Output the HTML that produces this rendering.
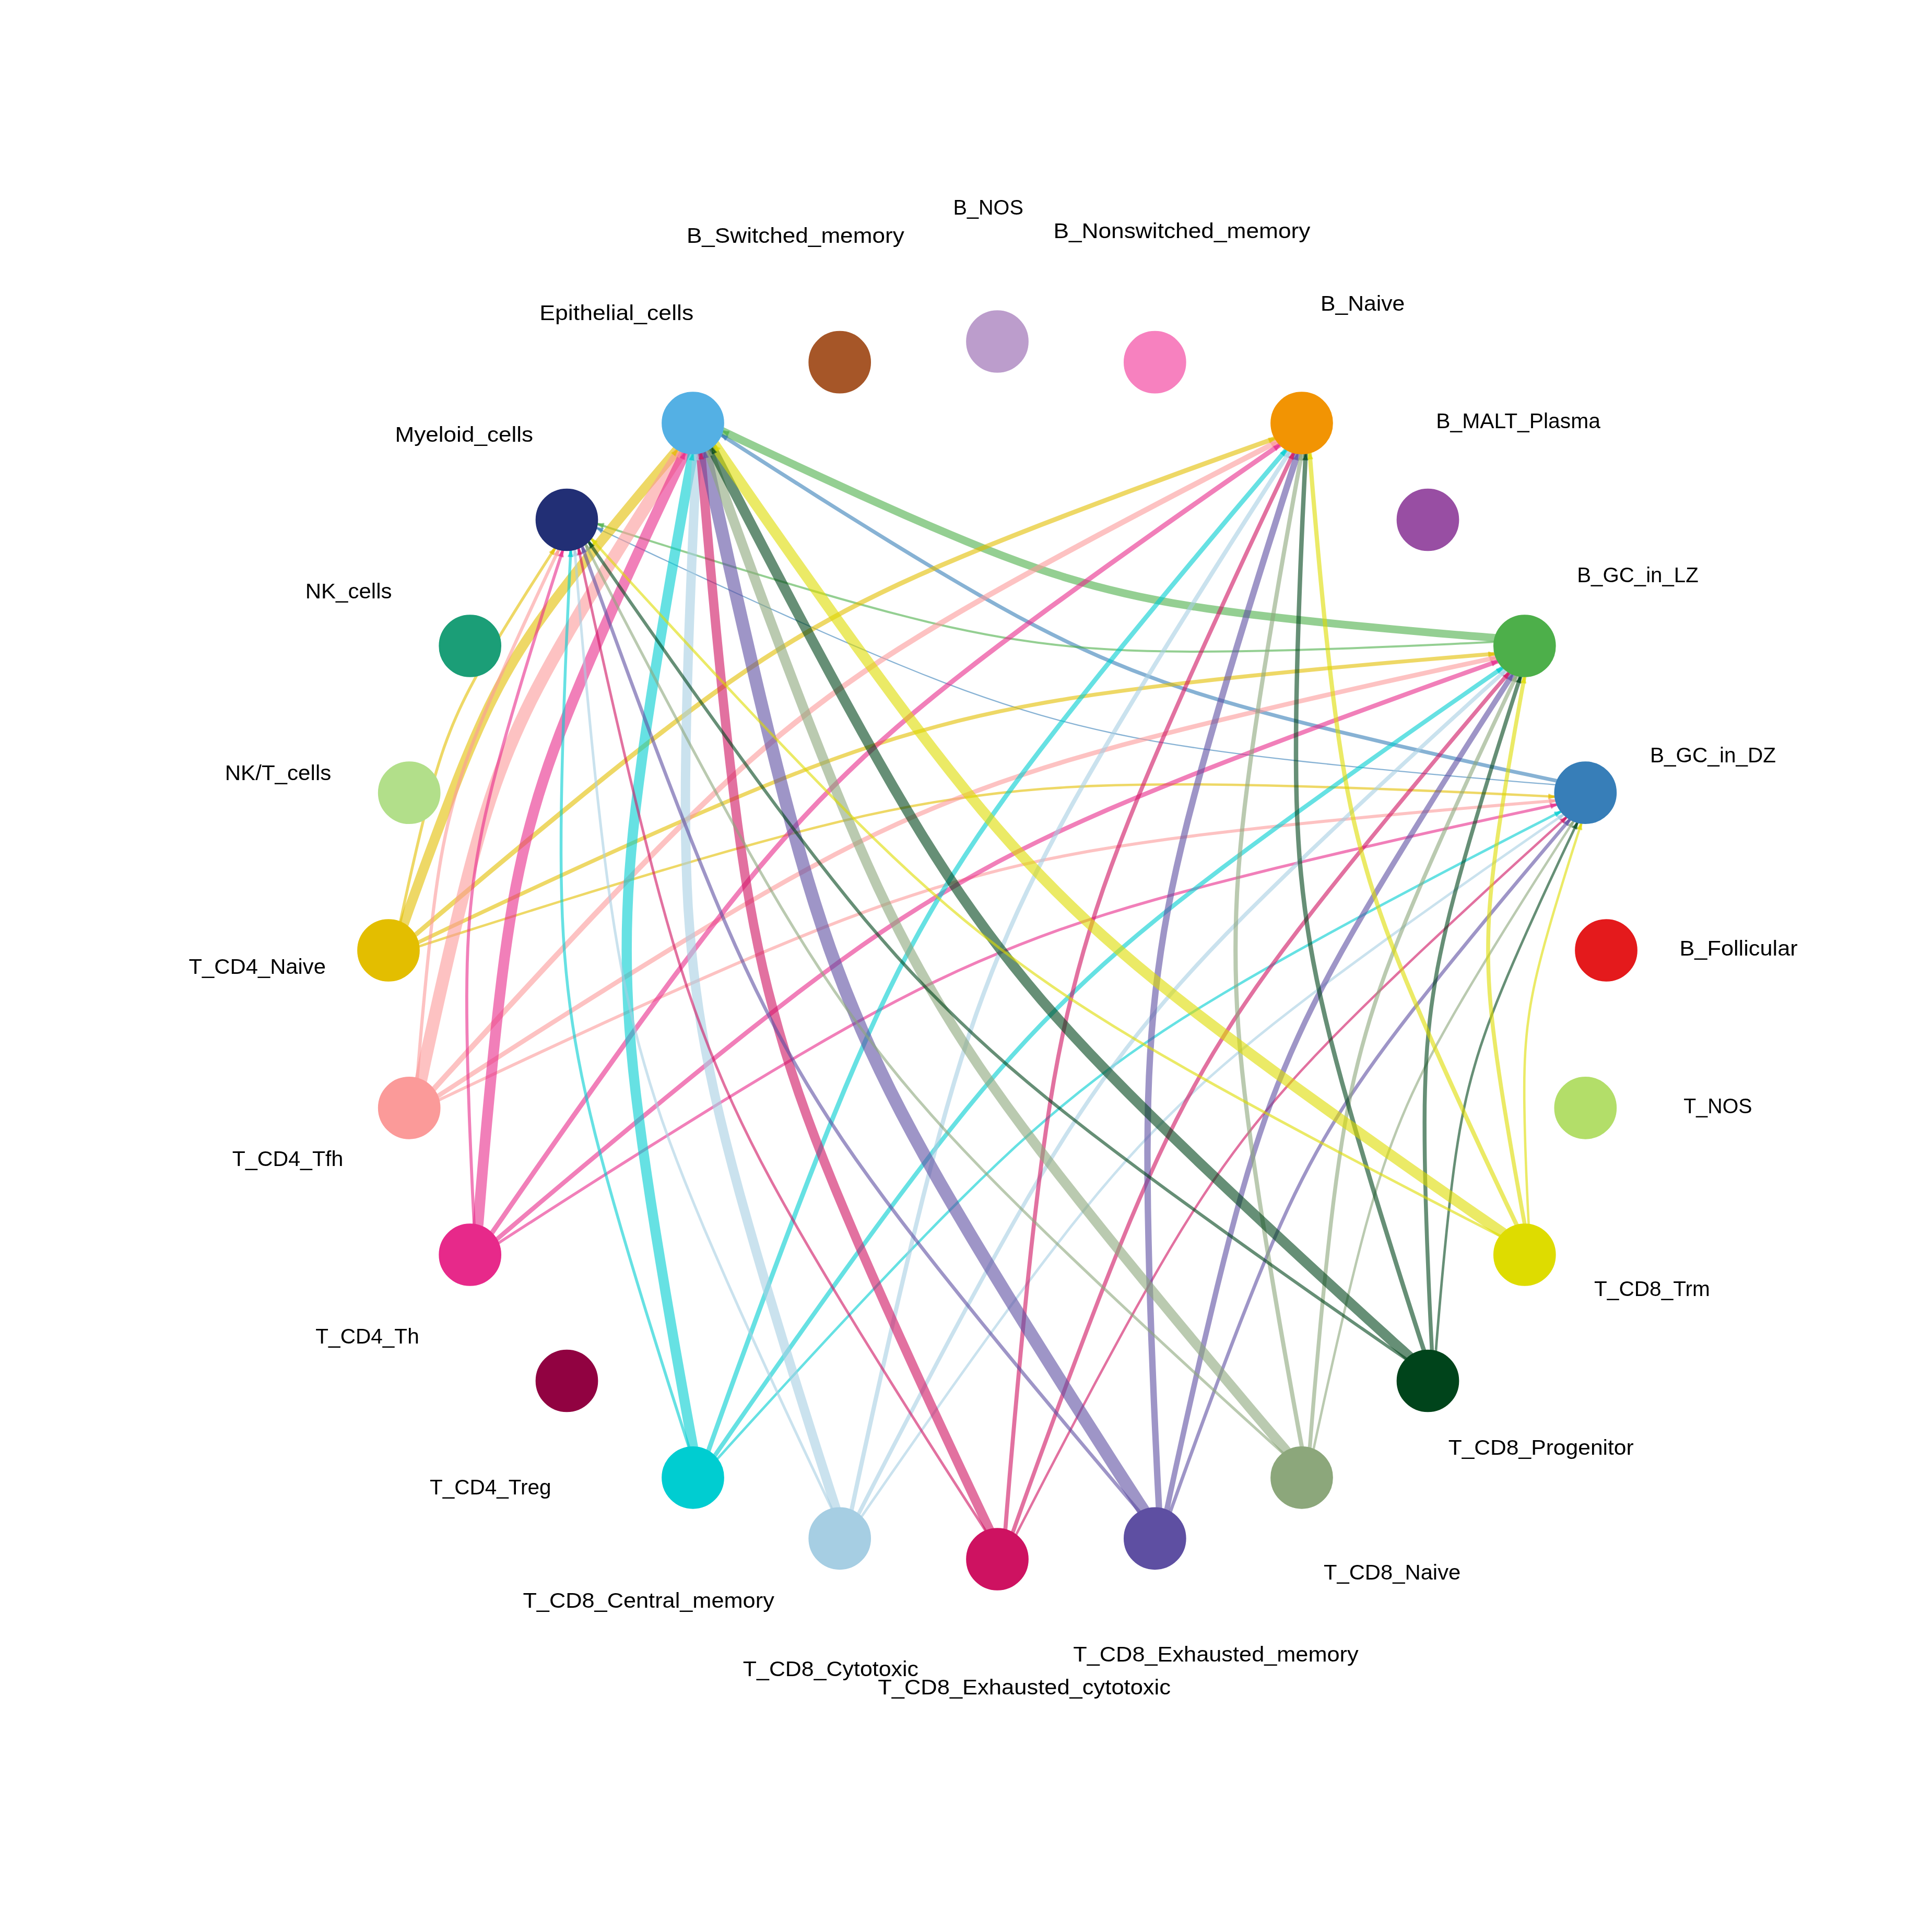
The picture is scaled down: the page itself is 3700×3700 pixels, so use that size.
<!DOCTYPE html>
<html lang="en">
<head>
<meta charset="utf-8">
<title>Cell-cell communication network</title>
<style>
html,body{margin:0;padding:0;background:#fff;}
body{width:3700px;height:3700px;overflow:hidden;font-family:"Liberation Sans",sans-serif;}
svg{display:block;will-change:transform;}
</style>
</head>
<body>
<svg width="3700" height="3700" viewBox="0 0 3700 3700">
<rect width="3700" height="3700" fill="#fff"/>
<g fill="none" stroke-opacity="0.6" stroke-linecap="round" stroke-linejoin="round">
<path d="M2981.3 1495.4 L2980.8 1495.3 L2977.5 1494.6 L2969 1492.8 L2953.7 1489.6 L2930.6 1484.6 L2899.5 1477.9 L2861 1469.4 L2816.2 1459.5 L2766.7 1448.4 L2714.4 1436.5 L2660.9 1424.2 L2607.7 1411.6 L2555.9 1399.2 L2506.3 1386.9 L2459.4 1374.9 L2415.3 1363.2 L2373.9 1351.7 L2335.2 1340.5 L2298.7 1329.3 L2264.1 1318.1 L2231 1306.8 L2199.1 1295.2 L2168 1283.3 L2137.3 1270.8 L2106.8 1257.9 L2076.3 1244.3 L2045.5 1230 L2014.1 1214.6 L1981.7 1198 L1948 1180.1 L1912.6 1160.6 L1875.2 1139.5 L1835.7 1116.5 L1794 1091.8 L1750.2 1065.4 L1704.7 1037.6 L1658.2 1008.8 L1611.6 979.7 L1566.1 951.1 L1523.3 923.9 L1484.5 899.3 L1451.2 877.9 L1424.4 860.7 L1404.5 847.9 L1391.4 839.4 L1384.1 834.7 L1381.3 832.8 L1380.9 832.5" stroke="#377EB8" stroke-width="7.2"/>
<path d="M2978.8 1502.8 L2978.2 1502.8 L2974.5 1502.5 L2965 1501.7 L2947.9 1500.4 L2922.1 1498.3 L2887.3 1495.4 L2844.1 1491.7 L2793.9 1487.3 L2738.5 1482.4 L2679.8 1476.9 L2619.8 1471.1 L2560.1 1465.1 L2502 1459 L2446.3 1452.7 L2393.5 1446.4 L2343.8 1439.9 L2297.1 1433.4 L2253.3 1426.7 L2211.9 1419.8 L2172.7 1412.6 L2135.1 1405 L2098.7 1396.9 L2063.1 1388.4 L2027.9 1379.3 L1992.8 1369.6 L1957.7 1359.2 L1922.2 1347.9 L1885.8 1335.7 L1848.2 1322.3 L1808.9 1307.6 L1767.6 1291.5 L1723.9 1273.8 L1677.6 1254.5 L1628.6 1233.6 L1577.2 1211.2 L1523.7 1187.4 L1468.9 1162.8 L1414 1137.8 L1360.4 1113.1 L1309.9 1089.7 L1264.2 1068.4 L1224.9 1049.9 L1193.3 1035 L1169.8 1023.9 L1154.3 1016.6 L1145.7 1012.5 L1142.3 1010.8 L1141.8 1010.6" stroke="#377EB8" stroke-width="2.3"/>
<path d="M2862.3 1221.6 L2861.9 1221.6 L2858.9 1221.3 L2851.2 1220.7 L2837.5 1219.6 L2816.7 1217.9 L2788.6 1215.6 L2753.9 1212.7 L2713.5 1209.1 L2668.8 1205.1 L2621.6 1200.8 L2573.3 1196.1 L2525.3 1191.3 L2478.5 1186.3 L2433.6 1181.3 L2391.1 1176.2 L2351.1 1171 L2313.5 1165.7 L2278.2 1160.3 L2245 1154.8 L2213.4 1149 L2183.1 1142.9 L2153.8 1136.4 L2125.1 1129.5 L2096.8 1122.2 L2068.6 1114.3 L2040.3 1106 L2011.7 1096.9 L1982.4 1087.1 L1952.1 1076.3 L1920.5 1064.5 L1887.2 1051.5 L1852 1037.3 L1814.7 1021.7 L1775.3 1004.9 L1733.9 986.8 L1690.8 967.7 L1646.7 947.8 L1602.5 927.7 L1559.4 907.9 L1518.7 889 L1481.8 871.8 L1450.2 857 L1424.7 845 L1405.8 836 L1393.3 830.1 L1386.4 826.8 L1383.7 825.5 L1383.3 825.3" stroke="#4DAF4A" stroke-width="15"/>
<path d="M2860.8 1229.2 L2860.3 1229.3 L2856.9 1229.4 L2848.2 1229.9 L2832.6 1230.7 L2809.1 1231.9 L2777.3 1233.4 L2737.8 1235.2 L2692 1237.2 L2641.3 1239.3 L2587.7 1241.4 L2532.8 1243.3 L2478.2 1245 L2425 1246.3 L2373.9 1247.3 L2325.5 1247.8 L2279.8 1248 L2236.9 1247.6 L2196.6 1246.8 L2158.4 1245.4 L2122.1 1243.6 L2087.3 1241.2 L2053.4 1238.3 L2020.2 1234.8 L1987.4 1230.7 L1954.6 1226.1 L1921.6 1220.9 L1888.2 1215 L1853.9 1208.3 L1818.3 1200.7 L1781.1 1192.1 L1741.8 1182.4 L1700.3 1171.7 L1656.2 1159.7 L1609.5 1146.7 L1560.4 1132.5 L1509.2 1117.4 L1456.8 1101.7 L1404.3 1085.6 L1353 1069.7 L1304.5 1054.6 L1260.7 1040.8 L1223 1028.8 L1192.7 1019.1 L1170.2 1011.8 L1155.3 1007 L1147 1004.3 L1143.8 1003.3 L1143.3 1003.1" stroke="#4DAF4A" stroke-width="4"/>
<path d="M803 1812.2 L803.6 1812 L807.7 1810.7 L818.1 1807.3 L837 1801.2 L865.4 1792 L903.8 1779.7 L951.5 1764.6 L1006.9 1747.1 L1068.2 1727.9 L1133.2 1707.8 L1199.7 1687.5 L1266 1667.5 L1330.7 1648.4 L1392.8 1630.5 L1451.9 1614 L1507.7 1598.9 L1560.3 1585.2 L1610 1573 L1657.1 1562.1 L1702.2 1552.5 L1745.6 1544 L1788 1536.5 L1829.7 1529.9 L1871.2 1524.1 L1912.9 1518.9 L1954.9 1514.5 L1997.8 1510.8 L2041.9 1507.8 L2088 1505.4 L2136.3 1503.7 L2187.5 1502.7 L2241.9 1502.2 L2299.7 1502.3 L2361.1 1503 L2425.9 1504.3 L2493.4 1506 L2562.6 1508.1 L2632.2 1510.5 L2700.2 1513.1 L2764.4 1515.7 L2822.5 1518.3 L2872.5 1520.6 L2912.9 1522.5 L2942.8 1524 L2962.6 1525 L2973.5 1525.6 L2977.8 1525.8 L2978.5 1525.8" stroke="#E3BE00" stroke-width="4.6"/>
<path d="M801.5 1804.6 L802 1804.3 L805.8 1802.5 L815.4 1797.9 L832.8 1789.7 L859.1 1777.2 L894.6 1760.5 L938.7 1739.8 L989.9 1715.9 L1046.6 1689.6 L1106.7 1661.9 L1168.3 1633.9 L1229.7 1606.2 L1289.6 1579.6 L1347.3 1554.4 L1402.2 1531 L1454.1 1509.3 L1503.1 1489.5 L1549.5 1471.4 L1593.6 1454.9 L1635.8 1439.9 L1676.6 1426.2 L1716.5 1413.5 L1755.9 1401.9 L1795.3 1391 L1834.8 1380.7 L1874.7 1371.1 L1915.6 1362.1 L1957.8 1353.6 L2001.9 1345.5 L2048.3 1337.7 L2097.6 1330.2 L2150 1322.8 L2205.8 1315.6 L2265.1 1308.5 L2327.7 1301.5 L2393 1294.5 L2460.1 1287.8 L2527.5 1281.2 L2593.4 1275.1 L2655.7 1269.5 L2712.1 1264.6 L2760.6 1260.5 L2799.8 1257.2 L2828.8 1254.8 L2848 1253.3 L2858.7 1252.5 L2862.8 1252.1 L2863.5 1252.1" stroke="#E3BE00" stroke-width="7.4"/>
<path d="M795.5 1790.2 L796 1789.9 L798.8 1787.5 L806 1781.3 L819.1 1770.2 L838.8 1753.4 L865.5 1730.8 L898.6 1702.9 L937.2 1670.4 L979.9 1634.8 L1025.3 1597.1 L1071.8 1558.8 L1118.2 1520.8 L1163.7 1484.1 L1207.5 1449.1 L1249.3 1416.3 L1289 1385.7 L1326.6 1357.3 L1362.4 1331 L1396.5 1306.7 L1429.3 1284.1 L1461.3 1262.8 L1492.7 1242.8 L1523.9 1223.6 L1555.3 1205.2 L1586.9 1187.3 L1619.1 1169.8 L1652.2 1152.6 L1686.6 1135.5 L1722.6 1118.4 L1760.8 1101 L1801.4 1083.2 L1844.8 1064.8 L1891.2 1045.7 L1940.6 1025.9 L1992.8 1005.4 L2047.4 984.4 L2103.6 963.1 L2160.1 941.9 L2215.4 921.5 L2267.7 902.3 L2315.1 885 L2355.9 870.3 L2388.9 858.5 L2413.3 849.7 L2429.5 844 L2438.5 840.8 L2442 839.6 L2442.5 839.4" stroke="#E3BE00" stroke-width="9"/>
<path d="M773.8 1768.5 L773.9 1768.2 L774.5 1766.2 L776.3 1761.3 L779.4 1752.4 L784.2 1738.9 L790.8 1720.8 L798.9 1698.4 L808.3 1672.3 L818.9 1643.5 L830.2 1613 L841.8 1581.9 L853.5 1551 L865.1 1521 L876.3 1492.2 L887.2 1465 L897.7 1439.5 L907.9 1415.6 L917.7 1393.2 L927.3 1372.2 L936.7 1352.3 L946.1 1333.4 L955.6 1315.2 L965.2 1297.4 L975.1 1280 L985.2 1262.7 L995.8 1245.5 L1006.9 1228.2 L1018.6 1210.6 L1031 1192.4 L1044.5 1173.6 L1059 1153.9 L1074.6 1133.1 L1091.5 1111.2 L1109.6 1088.2 L1128.9 1064 L1149.2 1038.9 L1170.1 1013.2 L1191.3 987.5 L1212 962.5 L1231.7 938.9 L1249.6 917.6 L1265 899.3 L1277.5 884.6 L1286.8 873.7 L1292.9 866.5 L1296.3 862.5 L1297.6 860.9 L1297.9 860.7" stroke="#E3BE00" stroke-width="19"/>
<path d="M766.8 1765 L766.8 1764.8 L767.1 1763.3 L767.9 1759.5 L769.4 1752.7 L771.6 1742.4 L774.6 1728.5 L778.4 1711.3 L782.8 1691.2 L787.8 1669.1 L793.1 1645.8 L798.6 1621.8 L804.2 1598.1 L809.8 1574.9 L815.3 1552.8 L820.6 1531.8 L825.8 1512.1 L831 1493.6 L836 1476.3 L841 1460 L846 1444.5 L851 1429.7 L856.2 1415.5 L861.6 1401.5 L867.1 1387.8 L872.9 1374.2 L879 1360.5 L885.4 1346.8 L892.3 1332.7 L899.7 1318.2 L907.7 1303.2 L916.4 1287.3 L925.9 1270.6 L936.1 1252.9 L947.2 1234.3 L959 1214.7 L971.4 1194.3 L984.3 1173.5 L997.3 1152.6 L1010.1 1132.3 L1022.3 1113.1 L1033.4 1095.8 L1042.9 1080.9 L1050.6 1068.9 L1056.3 1060 L1060.1 1054.1 L1062.2 1050.8 L1063.1 1049.6 L1063.2 1049.4" stroke="#E3BE00" stroke-width="5.4"/>
<path d="M841.2 2106.4 L841.8 2106.1 L845.7 2104.2 L855.7 2099.5 L873.7 2090.9 L901 2078 L937.8 2060.6 L983.5 2039.2 L1036.7 2014.3 L1095.5 1987.1 L1157.8 1958.4 L1221.6 1929.3 L1285.3 1900.6 L1347.6 1873 L1407.4 1846.9 L1464.3 1822.5 L1518.2 1800.1 L1569 1779.5 L1617.1 1760.8 L1662.8 1743.7 L1706.6 1728.1 L1748.9 1713.9 L1790.3 1700.8 L1831.2 1688.7 L1872 1677.4 L1913 1666.8 L1954.4 1656.8 L1996.8 1647.4 L2040.6 1638.6 L2086.3 1630.2 L2134.5 1622.1 L2185.6 1614.3 L2239.9 1606.7 L2297.8 1599.2 L2359.3 1591.8 L2424.3 1584.5 L2492 1577.3 L2561.6 1570.3 L2631.5 1563.5 L2699.9 1557.2 L2764.5 1551.4 L2823 1546.3 L2873.3 1542 L2913.9 1538.6 L2944 1536.2 L2963.9 1534.6 L2975 1533.7 L2979.3 1533.4 L2980 1533.3" stroke="#FB9A99" stroke-width="5.8"/>
<path d="M838.7 2099 L839.2 2098.7 L842.9 2096.3 L852 2090.3 L868.7 2079.6 L893.8 2063.3 L927.7 2041.5 L969.8 2014.6 L1018.8 1983.3 L1073.1 1948.9 L1130.6 1912.7 L1189.6 1875.8 L1248.5 1839.4 L1306 1804.2 L1361.4 1770.8 L1414.2 1739.5 L1464.2 1710.5 L1511.5 1683.7 L1556.3 1659.1 L1599 1636.4 L1640 1615.4 L1679.8 1595.9 L1718.7 1577.7 L1757.3 1560.5 L1796 1544.2 L1834.9 1528.4 L1874.3 1513.3 L1914.8 1498.6 L1956.6 1484.3 L2000.5 1470.1 L2046.7 1455.9 L2095.9 1441.7 L2148.3 1427.1 L2204.2 1412.3 L2263.7 1397.1 L2326.6 1381.5 L2392.2 1365.7 L2459.6 1349.8 L2527.5 1334.1 L2593.8 1319 L2656.5 1304.9 L2713.4 1292.4 L2762.2 1281.6 L2801.7 1273.1 L2831 1266.8 L2850.3 1262.6 L2861.1 1260.3 L2865.3 1259.4 L2865.9 1259.3" stroke="#FB9A99" stroke-width="8.8"/>
<path d="M830.9 2085.6 L831.3 2085.1 L834 2082.1 L840.8 2074.6 L853.1 2060.9 L871.8 2040.4 L896.9 2012.6 L928.2 1978.4 L964.6 1938.5 L1005 1894.7 L1047.9 1848.4 L1091.9 1801.2 L1135.9 1754.4 L1179.1 1709 L1220.7 1665.8 L1260.5 1625 L1298.4 1587 L1334.4 1551.6 L1368.6 1518.7 L1401.4 1488.1 L1433.2 1459.5 L1464.1 1432.5 L1494.7 1406.8 L1525.2 1382.1 L1555.9 1358.2 L1587 1334.7 L1618.7 1311.6 L1651.4 1288.8 L1685.5 1265.8 L1721.4 1242.6 L1759.5 1218.8 L1800.1 1194.2 L1843.7 1168.6 L1890.2 1141.8 L1939.9 1113.9 L1992.5 1084.8 L2047.6 1054.9 L2104.2 1024.4 L2161.2 994.1 L2217.1 964.6 L2270 936.9 L2317.9 912 L2359.2 890.6 L2392.5 873.5 L2417.2 860.8 L2433.6 852.4 L2442.6 847.8 L2446.2 846 L2446.7 845.7" stroke="#FB9A99" stroke-width="10.4"/>
<path d="M806.5 2066.8 L806.6 2066.4 L807.1 2063.9 L808.5 2057.6 L810.9 2046.1 L814.6 2028.7 L819.7 2005.4 L826.1 1976.4 L833.5 1942.7 L841.8 1905.6 L850.8 1866.2 L860 1826.1 L869.5 1786.1 L878.8 1747.2 L888.1 1710 L897.1 1674.7 L905.9 1641.5 L914.5 1610.5 L922.9 1581.3 L931.3 1553.9 L939.7 1527.9 L948.2 1503.1 L956.9 1479.1 L965.9 1455.7 L975.3 1432.6 L985 1409.7 L995.2 1386.8 L1006 1363.6 L1017.5 1340.1 L1030 1315.7 L1043.5 1290.4 L1058.1 1263.7 L1074 1235.7 L1091.2 1206 L1109.8 1174.6 L1129.6 1141.7 L1150.5 1107.5 L1172.2 1072.5 L1194 1037.5 L1215.6 1003.3 L1236 971.1 L1254.5 942 L1270.6 917 L1283.5 896.8 L1293.1 881.9 L1299.5 872 L1303.1 866.5 L1304.5 864.4 L1304.7 864.1" stroke="#FB9A99" stroke-width="24"/>
<path d="M799.1 2064.3 L799.2 2064 L799.3 2061.9 L799.7 2056.7 L800.5 2047.3 L801.6 2033.1 L803.2 2013.9 L805.2 1990.1 L807.6 1962.4 L810.4 1931.9 L813.4 1899.6 L816.6 1866.5 L819.9 1833.6 L823.3 1801.6 L826.7 1770.9 L830.2 1741.8 L833.7 1714.4 L837.3 1688.7 L841 1664.6 L844.8 1641.8 L848.8 1620.2 L853 1599.5 L857.4 1579.4 L862.2 1559.8 L867.2 1540.4 L872.5 1521.1 L878.3 1501.7 L884.5 1482.1 L891.2 1462 L898.6 1441.3 L906.7 1419.6 L915.6 1396.9 L925.3 1372.8 L935.9 1347.2 L947.5 1320.3 L959.8 1291.9 L972.9 1262.4 L986.5 1232.2 L1000.3 1201.9 L1013.9 1172.4 L1026.8 1144.5 L1038.6 1119.3 L1048.7 1097.6 L1057 1080.2 L1063.1 1067.3 L1067.1 1058.7 L1069.4 1054 L1070.3 1052.1 L1070.4 1051.8" stroke="#FB9A99" stroke-width="6.2"/>
<path d="M955.2 2380.2 L955.7 2379.9 L959.3 2377.5 L968.5 2371.6 L985.1 2360.8 L1010.3 2344.6 L1044.2 2322.8 L1086.3 2295.8 L1135.3 2264.5 L1189.6 2230.1 L1247.1 2193.9 L1306.1 2157.1 L1364.9 2120.6 L1422.5 2085.4 L1477.9 2052 L1530.7 2020.8 L1580.7 1991.7 L1628 1964.9 L1672.8 1940.3 L1715.5 1917.6 L1756.5 1896.6 L1796.2 1877.2 L1835.2 1858.9 L1873.8 1841.8 L1912.4 1825.4 L1951.3 1809.7 L1990.8 1794.5 L2031.2 1779.8 L2073.1 1765.5 L2117 1751.3 L2163.2 1737.1 L2212.4 1722.9 L2264.8 1708.4 L2320.7 1693.5 L2380.2 1678.3 L2443.1 1662.7 L2508.7 1646.9 L2576.1 1631 L2643.9 1615.3 L2710.3 1600.2 L2773 1586.2 L2829.8 1573.6 L2878.7 1562.9 L2918.2 1554.3 L2947.4 1548 L2966.8 1543.8 L2977.5 1541.6 L2981.8 1540.7 L2982.4 1540.5" stroke="#E7298A" stroke-width="5.4"/>
<path d="M951.7 2373.2 L952.2 2372.8 L955.5 2370 L964 2362.8 L979.2 2349.9 L1002.2 2330.3 L1033.2 2304 L1071.8 2271.5 L1116.7 2233.8 L1166.5 2192.2 L1219.2 2148.4 L1273.4 2103.8 L1327.5 2059.6 L1380.4 2016.8 L1431.5 1976.1 L1480.2 1937.8 L1526.4 1902.2 L1570.2 1869.1 L1611.7 1838.6 L1651.5 1810.2 L1689.7 1783.9 L1726.9 1759.2 L1763.5 1735.8 L1799.9 1713.5 L1836.4 1692.1 L1873.2 1671.2 L1910.7 1650.8 L1949.2 1630.8 L1989.2 1611 L2031.2 1591 L2075.6 1570.8 L2122.9 1550 L2173.5 1528.6 L2227.5 1506.4 L2285 1483.3 L2345.8 1459.4 L2409.4 1435 L2474.7 1410.2 L2540.5 1385.5 L2604.9 1361.7 L2665.8 1339.4 L2721 1319.3 L2768.5 1302.1 L2806.8 1288.4 L2835.3 1278.2 L2854.1 1271.5 L2864.6 1267.8 L2868.7 1266.4 L2869.3 1266.2" stroke="#E7298A" stroke-width="8.6"/>
<path d="M942.3 2360.9 L942.6 2360.4 L945 2356.9 L951.1 2348.2 L962 2332.3 L978.5 2308.4 L1000.9 2276.1 L1028.7 2236.2 L1061.1 2189.9 L1097.1 2138.8 L1135.3 2084.8 L1174.6 2029.7 L1213.9 1975 L1252.6 1922 L1289.9 1871.3 L1325.7 1823.6 L1359.9 1778.9 L1392.4 1737.2 L1423.5 1698.3 L1453.4 1662 L1482.5 1627.9 L1510.9 1595.6 L1539.2 1564.8 L1567.5 1534.9 L1596.1 1505.8 L1625.2 1477.2 L1655 1448.9 L1685.9 1420.7 L1718.2 1392.2 L1752.3 1363.1 L1788.7 1333.2 L1827.5 1302 L1869.2 1269.5 L1914 1235.3 L1961.8 1199.5 L2012.5 1162.1 L2065.6 1123.4 L2120.3 1084 L2175.4 1044.7 L2229.4 1006.4 L2280.6 970.4 L2326.9 937.9 L2366.9 910.1 L2399.2 887.7 L2423.1 871.2 L2439 860.2 L2447.8 854.2 L2451.3 851.8 L2451.8 851.4" stroke="#E7298A" stroke-width="9.3"/>
<path d="M915.6 2345.5 L915.6 2345.1 L915.9 2342.1 L916.5 2334.5 L917.6 2320.7 L919.3 2299.9 L921.6 2271.9 L924.5 2237.1 L928.1 2196.7 L932.1 2152.1 L936.5 2104.8 L941.1 2056.5 L945.9 2008.5 L950.9 1961.7 L956 1916.8 L961.1 1874.3 L966.2 1834.3 L971.5 1796.7 L976.9 1761.5 L982.4 1728.2 L988.2 1696.6 L994.4 1666.3 L1000.8 1637 L1007.7 1608.3 L1015.1 1580 L1022.9 1551.8 L1031.2 1523.5 L1040.3 1494.9 L1050.1 1465.6 L1060.9 1435.3 L1072.7 1403.7 L1085.7 1370.4 L1100 1335.2 L1115.5 1297.9 L1132.3 1258.5 L1150.4 1217.1 L1169.5 1174 L1189.4 1129.9 L1209.5 1085.7 L1229.4 1042.6 L1248.2 1001.9 L1265.4 965.1 L1280.2 933.4 L1292.2 907.9 L1301.2 889.1 L1307.1 876.6 L1310.4 869.7 L1311.7 866.9 L1311.9 866.5" stroke="#E7298A" stroke-width="20.5"/>
<path d="M908 2344 L908 2343.6 L907.8 2341.1 L907.5 2334.6 L906.9 2322.9 L906 2305.1 L904.8 2281.2 L903.5 2251.6 L902 2217.2 L900.4 2179.1 L898.8 2138.8 L897.4 2097.6 L896.1 2056.6 L895.1 2016.6 L894.4 1978.2 L894 1941.8 L893.9 1907.5 L894.2 1875.3 L894.8 1844.9 L895.8 1816.3 L897.2 1789 L899 1762.8 L901.2 1737.4 L903.8 1712.4 L906.8 1687.7 L910.3 1663.1 L914.2 1638.3 L918.7 1613.2 L923.7 1587.4 L929.4 1560.7 L935.9 1532.7 L943.1 1503.2 L951.2 1471.9 L960.2 1438.8 L970 1403.7 L980.7 1366.8 L992 1328.4 L1003.8 1289 L1015.9 1249.5 L1027.8 1210.9 L1039.2 1174.5 L1049.6 1141.5 L1058.6 1113.2 L1065.9 1090.4 L1071.4 1073.5 L1075 1062.3 L1077 1056.1 L1077.8 1053.7 L1077.9 1053.3" stroke="#E7298A" stroke-width="5.8"/>
<path d="M1374.2 2793.6 L1374.6 2793.1 L1377.3 2790.1 L1384.1 2782.6 L1396.4 2768.9 L1415 2748.4 L1440.2 2720.7 L1471.5 2686.4 L1507.9 2646.5 L1548.3 2602.7 L1591.1 2556.4 L1635.2 2509.2 L1679.2 2462.4 L1722.3 2417 L1764 2373.8 L1803.8 2333 L1841.7 2295 L1877.6 2259.6 L1911.9 2226.7 L1944.7 2196.1 L1976.4 2167.5 L2007.4 2140.5 L2038 2114.8 L2068.4 2090.1 L2099.1 2066.2 L2130.2 2042.7 L2162 2019.6 L2194.7 1996.8 L2228.8 1973.8 L2264.7 1950.6 L2302.8 1926.8 L2343.4 1902.2 L2386.9 1876.6 L2433.5 1849.8 L2483.2 1821.9 L2535.8 1792.8 L2590.8 1762.9 L2647.5 1732.4 L2704.5 1702.1 L2760.4 1672.6 L2813.2 1644.9 L2861.2 1620 L2902.4 1598.6 L2935.7 1581.5 L2960.5 1568.8 L2976.8 1560.4 L2985.9 1555.8 L2989.5 1554 L2990 1553.7" stroke="#00CDD1" stroke-width="4.8"/>
<path d="M1369.1 2787.7 L1369.4 2787.2 L1371.8 2783.7 L1377.8 2774.9 L1388.8 2759.1 L1405.3 2735.1 L1427.7 2702.9 L1455.5 2663 L1487.9 2616.6 L1523.9 2565.5 L1562.1 2511.6 L1601.4 2456.5 L1640.7 2401.8 L1679.3 2348.8 L1716.7 2298.1 L1752.5 2250.4 L1786.6 2205.6 L1819.2 2164 L1850.3 2125.1 L1880.2 2088.8 L1909.3 2054.7 L1937.7 2022.4 L1966 1991.5 L1994.3 1961.7 L2022.9 1932.6 L2052 1904 L2081.8 1875.7 L2112.7 1847.4 L2145 1818.9 L2179.1 1789.9 L2215.5 1759.9 L2254.3 1728.8 L2296 1696.3 L2340.8 1662.1 L2388.6 1626.3 L2439.3 1588.9 L2492.4 1550.2 L2547.1 1510.8 L2602.2 1471.5 L2656.2 1433.2 L2707.3 1397.2 L2753.7 1364.7 L2793.7 1336.9 L2825.9 1314.5 L2849.9 1297.9 L2865.8 1287 L2874.6 1281 L2878 1278.6 L2878.6 1278.2" stroke="#00CDD1" stroke-width="8.3"/>
<path d="M1356.7 2778.3 L1357 2777.6 L1358.4 2773.5 L1362.1 2763.1 L1368.8 2744.3 L1378.9 2715.9 L1392.7 2677.6 L1409.8 2630.1 L1429.9 2575 L1452.2 2514.1 L1476 2449.8 L1500.6 2384 L1525.3 2318.7 L1549.8 2255.2 L1573.6 2194.4 L1596.6 2137 L1618.8 2083 L1640.3 2032.5 L1661 1985.2 L1681.2 1940.8 L1701.2 1898.8 L1721 1858.8 L1741.1 1820.3 L1761.4 1782.9 L1782.3 1746 L1803.7 1709.5 L1826 1673.2 L1849.4 1636.6 L1874.1 1599.4 L1900.5 1561.1 L1928.8 1521.3 L1959.4 1479.7 L1992.5 1435.9 L2028.1 1389.6 L2066.4 1340.9 L2107.1 1289.8 L2149.9 1236.9 L2194.2 1182.7 L2238.8 1128.5 L2282.7 1075.7 L2324.3 1025.9 L2362 980.9 L2394.6 942.3 L2420.9 911.2 L2440.4 888.1 L2453.4 872.9 L2460.6 864.5 L2463.4 861.2 L2463.8 860.7" stroke="#00CDD1" stroke-width="8.9"/>
<path d="M1327 2770.3 L1326.9 2769.7 L1326.2 2766.1 L1324.5 2756.7 L1321.4 2739.9 L1316.7 2714.3 L1310.5 2680 L1302.9 2637.3 L1294.1 2587.7 L1284.5 2532.8 L1274.6 2474.8 L1264.7 2415.3 L1255 2356.1 L1245.9 2298.4 L1237.6 2242.9 L1230 2190.3 L1223.4 2140.6 L1217.6 2093.9 L1212.7 2049.8 L1208.7 2008.1 L1205.5 1968.3 L1203.1 1930 L1201.5 1892.8 L1200.5 1856.2 L1200.2 1819.8 L1200.5 1783.4 L1201.5 1746.8 L1203.1 1709.6 L1205.5 1671.3 L1208.7 1631.5 L1212.7 1589.7 L1217.6 1545.6 L1223.4 1498.8 L1230 1449.1 L1237.6 1396.4 L1245.9 1341 L1255 1283.1 L1264.7 1223.9 L1274.6 1164.4 L1284.5 1106.2 L1294.1 1051.3 L1302.9 1001.7 L1310.5 958.9 L1316.7 924.5 L1321.4 899 L1324.5 882.1 L1326.2 872.7 L1326.9 869.1 L1327 868.5" stroke="#00CDD1" stroke-width="19.5"/>
<path d="M1319.2 2770.8 L1319.1 2770.3 L1318 2767.1 L1315.3 2758.8 L1310.5 2744 L1303.3 2721.5 L1293.6 2691.2 L1281.6 2653.6 L1267.8 2609.8 L1252.7 2561.4 L1236.8 2510.2 L1220.8 2457.7 L1205 2405.3 L1189.9 2354.3 L1175.8 2305.2 L1162.7 2258.6 L1150.8 2214.5 L1140 2173 L1130.4 2133.7 L1121.8 2096.5 L1114.2 2061 L1107.5 2026.7 L1101.5 1993.3 L1096.3 1960.3 L1091.7 1927.5 L1087.7 1894.7 L1084.2 1861.5 L1081.3 1827.6 L1078.9 1792.8 L1077 1756.4 L1075.7 1718.3 L1074.8 1677.9 L1074.5 1634.9 L1074.6 1589.2 L1075.1 1540.7 L1076.1 1489.6 L1077.4 1436.3 L1079.1 1381.7 L1081 1326.7 L1083 1273 L1085.1 1222.3 L1087.2 1176.4 L1089 1136.9 L1090.5 1105.1 L1091.7 1081.5 L1092.5 1065.9 L1092.9 1057.2 L1093.1 1053.8 L1093.1 1053.3" stroke="#00CDD1" stroke-width="5.5"/>
<path d="M1650.3 2904.2 L1650.6 2903.7 L1652.7 2900.6 L1658.1 2892.8 L1667.8 2878.7 L1682.6 2857.4 L1702.5 2828.7 L1727.3 2793.1 L1756.1 2751.8 L1788.2 2706.3 L1822.2 2658.2 L1857.2 2609.1 L1892.3 2560.4 L1926.7 2513.2 L1960 2468.1 L1991.8 2425.5 L2022.3 2385.7 L2051.2 2348.5 L2079 2313.9 L2105.6 2281.6 L2131.5 2251.2 L2156.9 2222.4 L2182 2194.9 L2207.2 2168.4 L2232.7 2142.5 L2258.7 2117 L2285.2 2091.7 L2312.7 2066.6 L2341.5 2041.2 L2371.9 2015.3 L2404.3 1988.6 L2438.9 1960.9 L2476.1 1931.9 L2515.9 1901.4 L2558.5 1869.5 L2603.7 1836.2 L2651 1801.7 L2699.7 1766.6 L2748.8 1731.6 L2796.9 1697.5 L2842.5 1665.4 L2883.8 1636.5 L2919.4 1611.7 L2948.2 1591.8 L2969.5 1577 L2983.7 1567.3 L2991.5 1561.9 L2994.6 1559.8 L2995 1559.4" stroke="#A6CEE3" stroke-width="4.8"/>
<path d="M1644.4 2899.1 L1644.7 2898.5 L1646.5 2895 L1651.1 2885.9 L1659.5 2869.5 L1672.2 2844.8 L1689.3 2811.6 L1710.6 2770.3 L1735.5 2722.5 L1763.2 2669.6 L1792.6 2613.8 L1822.9 2556.8 L1853.3 2500.2 L1883.3 2445.2 L1912.3 2392.7 L1940.2 2343 L1966.9 2296.5 L1992.5 2253 L2017.1 2212.4 L2040.9 2174.3 L2064.1 2138.5 L2087 2104.4 L2109.9 2071.6 L2133 2039.9 L2156.4 2008.8 L2180.4 1978.1 L2205.1 1947.6 L2230.7 1917.1 L2257.8 1886.1 L2286.4 1854.4 L2317 1821.5 L2349.9 1787.2 L2385.3 1751.2 L2423.4 1713.3 L2464.2 1673.5 L2507.4 1631.8 L2552.8 1588.6 L2599.7 1544.5 L2646.9 1500.5 L2693.3 1457.5 L2737.2 1417.1 L2777 1380.6 L2811.3 1349.3 L2839 1324.1 L2859.7 1305.5 L2873.3 1293.1 L2880.9 1286.3 L2883.8 1283.7 L2884.3 1283.3" stroke="#A6CEE3" stroke-width="7.5"/>
<path d="M1631 2891.3 L1631.1 2890.7 L1632 2886.4 L1634.3 2875.7 L1638.4 2856.4 L1644.7 2827.1 L1653.3 2787.7 L1664 2738.9 L1676.5 2682.1 L1690.6 2619.4 L1705.6 2553.1 L1721.3 2485.4 L1737.2 2418 L1753 2352.4 L1768.5 2289.6 L1783.7 2230.2 L1798.6 2174.3 L1813.1 2121.9 L1827.3 2072.8 L1841.5 2026.5 L1855.6 1982.7 L1870 1940.8 L1884.7 1900.4 L1899.8 1861 L1915.5 1822.1 L1931.9 1783.5 L1949.1 1744.8 L1967.3 1705.9 L1986.8 1666.1 L2007.8 1625.1 L2030.5 1582.4 L2055.1 1537.5 L2081.9 1490.2 L2111 1440.1 L2142.3 1387.3 L2175.7 1331.9 L2210.9 1274.3 L2247.4 1215.3 L2284.2 1156.3 L2320.5 1098.7 L2354.9 1044.4 L2386.2 995.3 L2413.2 953.2 L2435 919.2 L2451.2 894.1 L2462 877.4 L2468 868.2 L2470.3 864.6 L2470.7 864.1" stroke="#A6CEE3" stroke-width="8.2"/>
<path d="M1600.5 2887.3 L1600.3 2886.7 L1599 2882.9 L1595.9 2873.2 L1590.2 2855.8 L1581.7 2829.3 L1570.3 2793.7 L1556.2 2749.4 L1540 2698 L1522.2 2641.1 L1503.5 2580.8 L1484.7 2519.1 L1466.1 2457.6 L1448.4 2397.5 L1431.8 2339.8 L1416.4 2285 L1402.4 2233.2 L1389.7 2184.3 L1378.4 2138.2 L1368.3 2094.5 L1359.4 2052.7 L1351.5 2012.4 L1344.5 1973.1 L1338.4 1934.3 L1333 1895.8 L1328.2 1857.1 L1324.1 1818.1 L1320.7 1778.3 L1317.8 1737.3 L1315.7 1694.6 L1314.1 1649.7 L1313.1 1602.2 L1312.7 1551.7 L1312.8 1498 L1313.5 1441 L1314.6 1381 L1316.2 1318.3 L1318.1 1254 L1320.3 1189.4 L1322.8 1126.3 L1325.2 1066.7 L1327.6 1012.7 L1329.7 966.3 L1331.5 928.9 L1332.9 901.2 L1333.8 882.8 L1334.4 872.6 L1334.6 868.6 L1334.6 868" stroke="#A6CEE3" stroke-width="18"/>
<path d="M1592.8 2888.8 L1592.6 2888.3 L1591 2884.9 L1586.9 2876.3 L1579.5 2860.9 L1568.4 2837.4 L1553.5 2805.8 L1535.1 2766.6 L1513.8 2720.9 L1490.4 2670.4 L1465.7 2616.9 L1440.8 2562.1 L1416.1 2507.4 L1392.4 2453.9 L1370 2402.5 L1349 2353.7 L1329.8 2307.4 L1312.1 2263.7 L1296 2222.4 L1281.3 2183.2 L1267.9 2145.6 L1255.7 2109.2 L1244.5 2073.7 L1234.1 2038.5 L1224.3 2003.5 L1215.2 1968.3 L1206.7 1932.7 L1198.6 1896.3 L1191 1858.7 L1183.8 1819.4 L1176.9 1778 L1170.2 1734.2 L1163.6 1687.5 L1157.2 1637.8 L1150.9 1584.9 L1144.6 1529.1 L1138.4 1471 L1132.4 1411.2 L1126.6 1351.1 L1121.1 1292.4 L1116.1 1236.9 L1111.7 1186.7 L1108.1 1143.4 L1105.2 1108.6 L1103.1 1082.7 L1101.7 1065.6 L1100.9 1056.1 L1100.6 1052.4 L1100.6 1051.8" stroke="#A6CEE3" stroke-width="5"/>
<path d="M1946.2 2938.8 L1946.5 2938.3 L1948 2935.3 L1951.9 2927.6 L1959 2913.7 L1969.8 2892.7 L1984.4 2864.4 L2002.5 2829.3 L2023.7 2788.6 L2047.2 2743.7 L2072.2 2696.2 L2098 2647.7 L2123.9 2599.6 L2149.3 2552.8 L2174 2508.1 L2197.8 2465.9 L2220.5 2426.3 L2242.2 2389.3 L2263.1 2354.8 L2283.4 2322.4 L2303.1 2291.9 L2322.6 2262.9 L2342.1 2235.1 L2361.7 2208.1 L2381.6 2181.6 L2402 2155.5 L2423 2129.6 L2444.9 2103.6 L2467.8 2077.3 L2492.2 2050.3 L2518.3 2022.3 L2546.2 1993.2 L2576.4 1962.5 L2608.7 1930.3 L2643.4 1896.4 L2680.2 1861 L2718.8 1824.2 L2758.7 1786.7 L2798.9 1749.2 L2838.3 1712.7 L2875.6 1678.3 L2909.5 1647.3 L2938.7 1620.7 L2962.3 1599.2 L2979.8 1583.4 L2991.4 1572.9 L2997.9 1567.1 L3000.4 1564.8 L3000.8 1564.5" stroke="#CE1261" stroke-width="4.6"/>
<path d="M1939.7 2934.5 L1939.9 2933.9 L1941.2 2930.4 L1944.3 2921.5 L1950.1 2905.3 L1958.8 2880.9 L1970.6 2848 L1985.3 2807.2 L2002.6 2759.9 L2021.7 2707.6 L2042.1 2652.4 L2063.3 2595.9 L2084.5 2539.8 L2105.5 2485.2 L2126 2433.1 L2145.8 2383.7 L2164.8 2337.3 L2183.2 2294 L2201 2253.4 L2218.4 2215.2 L2235.5 2179.2 L2252.6 2144.8 L2269.8 2111.8 L2287.3 2079.6 L2305.2 2047.9 L2323.6 2016.6 L2342.8 1985.4 L2362.8 1953.9 L2384.1 1922 L2406.7 1889.1 L2431.1 1854.9 L2457.3 1819.2 L2485.7 1781.6 L2516.4 1741.8 L2549.2 1700 L2584.2 1656.1 L2621 1610.6 L2659 1564.1 L2697.4 1517.5 L2735 1472.1 L2770.7 1429.4 L2803.2 1390.7 L2831.1 1357.6 L2853.7 1330.8 L2870.5 1311.1 L2881.7 1298 L2887.8 1290.8 L2890.3 1287.9 L2890.6 1287.5" stroke="#CE1261" stroke-width="7.6"/>
<path d="M1925.4 2928.5 L1925.4 2927.9 L1925.8 2923.7 L1926.6 2913.1 L1928.1 2893.9 L1930.5 2864.9 L1933.7 2825.8 L1937.9 2777.3 L1942.8 2721 L1948.4 2658.7 L1954.5 2592.9 L1961 2525.5 L1967.7 2458.5 L1974.6 2393.3 L1981.7 2330.7 L1988.8 2271.5 L1996 2215.7 L2003.3 2163.3 L2010.8 2114.1 L2018.6 2067.7 L2026.7 2023.6 L2035.2 1981.4 L2044.3 1940.6 L2053.9 1900.6 L2064.1 1861.1 L2075 1821.7 L2086.7 1782.3 L2099.3 1742.4 L2113 1701.6 L2128 1659.4 L2144.5 1615.3 L2162.6 1568.9 L2182.4 1519.8 L2204.1 1467.9 L2227.6 1412.9 L2252.8 1355.2 L2279.4 1295.2 L2307.1 1233.7 L2335.2 1172.1 L2362.8 1111.9 L2389.1 1055.2 L2413.1 1003.9 L2433.7 959.8 L2450.5 924.3 L2463 897.9 L2471.2 880.5 L2475.8 870.9 L2477.6 867.1 L2477.9 866.5" stroke="#CE1261" stroke-width="7.8"/>
<path d="M1894.6 2928.5 L1894.3 2928 L1892.5 2924.2 L1887.9 2914.6 L1879.7 2897.2 L1867.2 2870.9 L1850.5 2835.4 L1829.8 2791.3 L1805.9 2740.1 L1779.6 2683.4 L1751.9 2623.3 L1723.9 2561.7 L1696.2 2500.3 L1669.6 2440.4 L1644.4 2382.7 L1621 2327.8 L1599.3 2275.9 L1579.5 2226.9 L1561.4 2180.5 L1544.9 2136.4 L1529.9 2094.2 L1516.2 2053.4 L1503.5 2013.5 L1491.9 1974.1 L1481 1934.7 L1470.7 1895.2 L1461.1 1855.3 L1452.1 1814.4 L1443.6 1772.2 L1435.5 1728.1 L1427.7 1681.7 L1420.2 1632.4 L1412.8 1580 L1405.6 1524.2 L1398.5 1464.9 L1391.5 1402.3 L1384.5 1337 L1377.8 1269.9 L1371.2 1202.5 L1365.1 1136.6 L1359.5 1074.3 L1354.6 1017.9 L1350.5 969.4 L1347.2 930.2 L1344.8 901.2 L1343.3 882 L1342.5 871.3 L1342.1 867.2 L1342.1 866.5" stroke="#CE1261" stroke-width="17.8"/>
<path d="M1887.2 2931 L1886.9 2930.5 L1884.7 2927.2 L1879.2 2918.6 L1869.2 2903.2 L1854.1 2879.9 L1833.9 2848.4 L1808.8 2809.3 L1779.8 2763.8 L1747.9 2713.5 L1714.3 2660.1 L1680.1 2605.3 L1646.3 2550.7 L1613.6 2497.3 L1582.6 2445.9 L1553.6 2396.9 L1526.6 2350.5 L1501.8 2306.6 L1478.9 2265 L1457.8 2225.3 L1438.4 2187.3 L1420.3 2150.4 L1403.4 2114.2 L1387.4 2078.4 L1372.2 2042.5 L1357.6 2006.4 L1343.6 1969.8 L1329.9 1932.3 L1316.6 1893.4 L1303.5 1852.7 L1290.3 1809.8 L1277.1 1764.1 L1263.6 1715.5 L1249.8 1663.6 L1235.7 1608.3 L1221.2 1550 L1206.5 1489.1 L1191.8 1426.5 L1177.2 1363.5 L1163.2 1302 L1150.2 1243.7 L1138.5 1191 L1128.6 1145.6 L1120.6 1109 L1114.7 1081.8 L1110.9 1063.8 L1108.8 1053.9 L1107.9 1050 L1107.8 1049.4" stroke="#CE1261" stroke-width="5"/>
<path d="M2241.5 2894.7 L2241.7 2894.3 L2242.7 2891.5 L2245.2 2884.3 L2249.9 2871.3 L2256.9 2851.6 L2266.4 2825.1 L2278.2 2792.3 L2292.1 2754.2 L2307.5 2712.1 L2324 2667.6 L2341 2622.2 L2358.1 2577 L2375 2533.1 L2391.5 2491.1 L2407.4 2451.3 L2422.7 2414 L2437.5 2379.1 L2451.9 2346.4 L2465.9 2315.7 L2479.7 2286.7 L2493.4 2259.1 L2507.2 2232.4 L2521.3 2206.5 L2535.7 2181 L2550.6 2155.8 L2566 2130.7 L2582.1 2105.3 L2599.2 2079.6 L2617.5 2053.1 L2637.1 2025.6 L2658.2 1996.9 L2681.1 1966.5 L2705.7 1934.6 L2732.2 1900.9 L2760.4 1865.5 L2790 1828.9 L2820.6 1791.4 L2851.5 1753.9 L2881.8 1717.4 L2910.6 1682.9 L2936.7 1651.8 L2959.2 1625.1 L2977.4 1603.6 L2990.9 1587.7 L2999.9 1577.2 L3004.9 1571.3 L3006.8 1569.1 L3007.1 1568.7" stroke="#5E4FA2" stroke-width="6.5"/>
<path d="M2234.6 2891.3 L2234.7 2890.8 L2235.4 2887.5 L2237.2 2879 L2240.4 2863.7 L2245.4 2840.6 L2252.1 2809.5 L2260.6 2771 L2270.5 2726.2 L2281.6 2676.7 L2293.5 2624.4 L2305.8 2570.9 L2318.4 2517.7 L2330.8 2465.9 L2343.1 2416.3 L2355.1 2369.4 L2366.8 2325.3 L2378.3 2283.9 L2389.5 2245.2 L2400.7 2208.7 L2411.9 2174.1 L2423.2 2141 L2434.8 2109.1 L2446.7 2078 L2459.2 2047.3 L2472.1 2016.8 L2485.7 1986.3 L2500 1955.5 L2515.4 1924.1 L2532 1891.7 L2549.9 1858 L2569.4 1822.6 L2590.5 1785.2 L2613.5 1745.7 L2638.2 1704 L2664.6 1660.2 L2692.4 1614.7 L2721.2 1568.2 L2750.3 1521.6 L2778.9 1476.1 L2806.1 1433.3 L2830.7 1394.5 L2852.1 1361.2 L2869.3 1334.4 L2882.1 1314.5 L2890.6 1301.4 L2895.3 1294.1 L2897.2 1291.3 L2897.5 1290.9" stroke="#5E4FA2" stroke-width="10.4"/>
<path d="M2219.5 2887.3 L2219.5 2886.7 L2219.3 2882.7 L2218.8 2872.5 L2217.8 2854.2 L2216.4 2826.4 L2214.7 2789.1 L2212.5 2742.7 L2210.1 2688.8 L2207.7 2629.2 L2205.2 2566.2 L2203 2501.7 L2201 2437.4 L2199.5 2374.8 L2198.3 2314.8 L2197.7 2257.9 L2197.5 2204.2 L2198 2153.7 L2198.9 2106.3 L2200.5 2061.4 L2202.7 2018.7 L2205.5 1977.8 L2208.9 1938 L2213 1899 L2217.8 1860.3 L2223.2 1821.8 L2229.3 1783 L2236.3 1743.7 L2244.2 1703.4 L2253.2 1661.5 L2263.3 1617.8 L2274.6 1571.6 L2287.3 1522.8 L2301.3 1470.9 L2316.7 1416 L2333.3 1358.3 L2351 1298.2 L2369.5 1236.6 L2388.4 1174.8 L2407.1 1114.5 L2424.9 1057.5 L2441.2 1006 L2455.2 961.7 L2466.6 926 L2475.2 899.6 L2480.8 882.1 L2484 872.4 L2485.2 868.6 L2485.4 868" stroke="#5E4FA2" stroke-width="12.3"/>
<path d="M2189 2891.3 L2188.7 2890.8 L2186.3 2887.1 L2180.3 2878 L2169.6 2861.3 L2153.3 2836.2 L2131.5 2802.3 L2104.6 2760.2 L2073.3 2711.2 L2038.9 2656.9 L2002.7 2599.4 L1965.8 2540.4 L1929.4 2481.5 L1894.2 2424 L1860.8 2368.6 L1829.5 2315.8 L1800.5 2265.8 L1773.7 2218.5 L1749.1 2173.7 L1726.4 2131 L1705.4 2090 L1685.9 2050.2 L1667.7 2011.3 L1650.5 1972.7 L1634.2 1934 L1618.4 1895.1 L1603.3 1855.7 L1588.6 1815.2 L1574.3 1773.4 L1560.1 1729.5 L1545.9 1683.3 L1531.7 1634.1 L1517.1 1581.7 L1502.3 1525.8 L1487.1 1466.3 L1471.5 1403.4 L1455.7 1337.8 L1439.8 1270.4 L1424.1 1202.5 L1409 1136.2 L1394.9 1073.5 L1382.4 1016.6 L1371.6 967.8 L1363.1 928.3 L1356.8 899 L1352.6 879.7 L1350.3 868.9 L1349.4 864.7 L1349.3 864.1" stroke="#5E4FA2" stroke-width="24.5"/>
<path d="M2182 2894.7 L2181.6 2894.3 L2178.9 2891.1 L2172 2883 L2159.5 2868.3 L2140.6 2846.1 L2115.3 2816.2 L2083.9 2779 L2047.5 2735.7 L2007.5 2687.7 L1965.2 2636.8 L1922.2 2584.6 L1879.6 2532.5 L1838.4 2481.4 L1799.1 2432.2 L1762.2 2385.3 L1727.9 2340.8 L1696 2298.5 L1666.6 2258.4 L1639.2 2220.1 L1613.8 2183.3 L1590 2147.4 L1567.5 2112.1 L1546 2077 L1525.3 2041.9 L1505.2 2006.4 L1485.6 1970.2 L1466.3 1933.1 L1447.1 1894.5 L1427.9 1854 L1408.3 1811.2 L1388.3 1765.6 L1367.7 1716.9 L1346.3 1664.8 L1324 1609.4 L1301 1550.7 L1277.4 1489.4 L1253.5 1426.4 L1229.8 1363 L1206.8 1300.9 L1185.3 1242.2 L1165.9 1189 L1149.4 1143.2 L1136.1 1106.2 L1126.3 1078.8 L1119.8 1060.6 L1116.3 1050.6 L1114.9 1046.6 L1114.7 1046" stroke="#5E4FA2" stroke-width="6.5"/>
<path d="M2515.8 2774.8 L2515.8 2774.4 L2516.4 2771.9 L2517.7 2765.6 L2520.2 2754.1 L2523.9 2736.8 L2529 2713.4 L2535.3 2684.4 L2542.8 2650.7 L2551.1 2613.6 L2560 2574.3 L2569.3 2534.1 L2578.7 2494.1 L2588.1 2455.2 L2597.3 2418 L2606.3 2382.7 L2615.1 2349.5 L2623.7 2318.5 L2632.2 2289.3 L2640.6 2261.9 L2649 2235.9 L2657.5 2211.1 L2666.2 2187.1 L2675.2 2163.7 L2684.5 2140.6 L2694.2 2117.7 L2704.4 2094.8 L2715.3 2071.7 L2726.8 2048.1 L2739.2 2023.7 L2752.7 1998.4 L2767.4 1971.8 L2783.3 1943.7 L2800.5 1914 L2819.1 1882.6 L2838.9 1849.7 L2859.8 1815.5 L2881.4 1780.5 L2903.3 1745.5 L2924.8 1711.3 L2945.2 1679.1 L2963.8 1650 L2979.8 1625 L2992.8 1604.8 L3002.4 1589.9 L3008.8 1580 L3012.4 1574.5 L3013.7 1572.4 L3014 1572.1" stroke="#8CA77B" stroke-width="4.6"/>
<path d="M2508.4 2772.3 L2508.4 2771.9 L2508.7 2768.9 L2509.3 2761.2 L2510.4 2747.5 L2512.1 2726.7 L2514.4 2698.6 L2517.3 2663.9 L2520.9 2623.5 L2524.9 2578.8 L2529.2 2531.6 L2533.9 2483.3 L2538.7 2435.3 L2543.7 2388.5 L2548.7 2343.6 L2553.8 2301.1 L2559 2261.1 L2564.3 2223.5 L2569.7 2188.2 L2575.2 2155 L2581 2123.4 L2587.1 2093.1 L2593.6 2063.8 L2600.5 2035.1 L2607.8 2006.8 L2615.7 1978.6 L2624 1950.3 L2633.1 1921.7 L2642.9 1892.4 L2653.7 1862.1 L2665.5 1830.5 L2678.5 1797.2 L2692.7 1762 L2708.3 1724.7 L2725.1 1685.3 L2743.2 1643.9 L2762.3 1600.8 L2782.2 1556.7 L2802.3 1512.5 L2822.1 1469.4 L2841 1428.7 L2858.2 1391.8 L2873 1360.2 L2885 1334.7 L2894 1315.8 L2899.9 1303.3 L2903.2 1296.4 L2904.5 1293.7 L2904.7 1293.3" stroke="#8CA77B" stroke-width="7.4"/>
<path d="M2493 2770.3 L2492.9 2769.7 L2492.2 2766.1 L2490.5 2756.7 L2487.4 2739.9 L2482.7 2714.3 L2476.5 2680 L2468.9 2637.3 L2460.1 2587.7 L2450.5 2532.8 L2440.6 2474.8 L2430.7 2415.3 L2421 2356.1 L2411.9 2298.4 L2403.6 2242.9 L2396 2190.3 L2389.4 2140.6 L2383.6 2093.9 L2378.7 2049.8 L2374.7 2008.1 L2371.5 1968.3 L2369.1 1930 L2367.5 1892.8 L2366.5 1856.2 L2366.2 1819.8 L2366.5 1783.4 L2367.5 1746.8 L2369.1 1709.6 L2371.5 1671.3 L2374.7 1631.5 L2378.7 1589.7 L2383.6 1545.6 L2389.4 1498.8 L2396 1449.1 L2403.6 1396.4 L2411.9 1341 L2421 1283.1 L2430.7 1223.9 L2440.6 1164.4 L2450.5 1106.2 L2460.1 1051.3 L2468.9 1001.7 L2476.5 958.9 L2482.7 924.5 L2487.4 899 L2490.5 882.1 L2492.2 872.7 L2492.9 869.1 L2493 868.5" stroke="#8CA77B" stroke-width="8.1"/>
<path d="M2463.2 2778.3 L2462.8 2777.8 L2460 2774.5 L2452.8 2766 L2439.9 2750.8 L2420.3 2727.8 L2394 2696.8 L2361.5 2658.2 L2323.8 2613.3 L2282.2 2563.5 L2238.4 2510.8 L2193.8 2456.6 L2149.6 2402.5 L2106.8 2349.6 L2066.1 2298.5 L2027.8 2249.8 L1992.2 2203.6 L1959.1 2159.8 L1928.6 2118.3 L1900.2 2078.5 L1873.9 2040.3 L1849.2 2003.1 L1825.8 1966.5 L1803.5 1930.1 L1782.1 1893.6 L1761.2 1856.8 L1740.8 1819.3 L1720.8 1780.8 L1701 1740.8 L1681 1698.8 L1660.8 1654.4 L1640 1607.1 L1618.6 1556.5 L1596.4 1502.5 L1573.3 1445 L1549.4 1384.2 L1525 1320.6 L1500.2 1255.3 L1475.5 1189.5 L1451.7 1125.1 L1429.4 1064.2 L1409.3 1009 L1392.1 961.5 L1378.4 923.2 L1368.2 894.7 L1361.5 875.9 L1357.8 865.4 L1356.4 861.3 L1356.2 860.7" stroke="#8CA77B" stroke-width="19"/>
<path d="M2456.8 2782.6 L2456.3 2782.1 L2453.1 2779.3 L2444.9 2771.9 L2430.3 2758.7 L2408.1 2738.6 L2378.2 2711.5 L2341.3 2677.8 L2298.4 2638.5 L2251.1 2595 L2201.3 2548.8 L2150.4 2501.4 L2100 2454 L2051.1 2407.5 L2004.5 2362.6 L1960.6 2319.7 L1919.6 2278.9 L1881.5 2240.2 L1846.1 2203.3 L1813.1 2167.9 L1782.3 2133.7 L1753.2 2100.4 L1725.5 2067.5 L1698.9 2034.6 L1673.1 2001.5 L1647.8 1968 L1623 1933.9 L1598.3 1898.6 L1573.6 1861.8 L1548.6 1823.2 L1522.9 1782.2 L1496.4 1738.4 L1468.8 1691.5 L1440 1641.3 L1409.9 1587.8 L1378.6 1531.1 L1346.3 1471.8 L1313.5 1410.8 L1280.8 1349.3 L1249.1 1289.2 L1219.3 1232.2 L1192.4 1180.6 L1169.4 1136.1 L1150.9 1100.3 L1137.3 1073.6 L1128.2 1056 L1123.3 1046.2 L1121.3 1042.3 L1121 1041.8" stroke="#8CA77B" stroke-width="5.2"/>
<path d="M2749.9 2587 L2749.9 2586.7 L2750.1 2584.7 L2750.5 2579.4 L2751.2 2570 L2752.4 2555.8 L2754 2536.6 L2756 2512.8 L2758.4 2485.1 L2761.1 2454.6 L2764.1 2422.3 L2767.3 2389.2 L2770.6 2356.3 L2774 2324.3 L2777.5 2293.6 L2781 2264.5 L2784.5 2237.1 L2788.1 2211.4 L2791.8 2187.3 L2795.6 2164.5 L2799.6 2142.9 L2803.8 2122.2 L2808.2 2102.1 L2812.9 2082.5 L2817.9 2063.1 L2823.3 2043.8 L2829 2024.4 L2835.2 2004.8 L2842 1984.7 L2849.3 1964 L2857.4 1942.4 L2866.3 1919.6 L2876.1 1895.5 L2886.7 1869.9 L2898.2 1843 L2910.6 1814.6 L2923.7 1785.1 L2937.3 1754.9 L2951.1 1724.6 L2964.7 1695.1 L2977.6 1667.2 L2989.3 1642 L2999.5 1620.3 L3007.7 1602.9 L3013.8 1590 L3017.9 1581.4 L3020.2 1576.7 L3021 1574.8 L3021.2 1574.5" stroke="#00441B" stroke-width="4.8"/>
<path d="M2742.3 2585.5 L2742.2 2585.1 L2742.1 2582.6 L2741.8 2576.1 L2741.2 2564.3 L2740.3 2546.6 L2739.1 2522.7 L2737.7 2493.1 L2736.2 2458.7 L2734.7 2420.6 L2733.1 2380.3 L2731.7 2339.1 L2730.4 2298 L2729.4 2258 L2728.7 2219.7 L2728.3 2183.3 L2728.2 2149 L2728.4 2116.8 L2729.1 2086.4 L2730.1 2057.7 L2731.5 2030.5 L2733.2 2004.3 L2735.5 1978.9 L2738.1 1953.9 L2741.1 1929.2 L2744.6 1904.6 L2748.5 1879.8 L2752.9 1854.7 L2758 1828.9 L2763.7 1802.2 L2770.2 1774.2 L2777.4 1744.7 L2785.5 1713.4 L2794.5 1680.3 L2804.3 1645.2 L2814.9 1608.3 L2826.3 1569.8 L2838.1 1530.5 L2850.2 1491 L2862.1 1452.4 L2873.5 1416 L2883.9 1383 L2892.9 1354.7 L2900.2 1331.9 L2905.6 1315 L2909.3 1303.8 L2911.3 1297.6 L2912.1 1295.2 L2912.2 1294.8" stroke="#00441B" stroke-width="7.5"/>
<path d="M2726.7 2585.5 L2726.6 2585 L2725.5 2581.8 L2722.8 2573.5 L2718 2558.7 L2710.8 2536.2 L2701.1 2505.9 L2689.1 2468.3 L2675.3 2424.5 L2660.2 2376.1 L2644.3 2324.9 L2628.2 2272.4 L2612.5 2220 L2597.4 2169 L2583.3 2119.9 L2570.2 2073.3 L2558.3 2029.2 L2547.5 1987.7 L2537.9 1948.4 L2529.3 1911.2 L2521.7 1875.7 L2515 1841.4 L2509 1808 L2503.8 1775 L2499.2 1742.2 L2495.2 1709.4 L2491.7 1676.2 L2488.7 1642.3 L2486.4 1607.5 L2484.5 1571.1 L2483.2 1533 L2482.3 1492.6 L2482 1449.6 L2482.1 1403.9 L2482.6 1355.4 L2483.6 1304.3 L2484.9 1251 L2486.6 1196.4 L2488.5 1141.4 L2490.5 1087.7 L2492.6 1037 L2494.6 991.1 L2496.5 951.6 L2498 919.8 L2499.2 896.2 L2499.9 880.6 L2500.4 871.9 L2500.6 868.5 L2500.6 868" stroke="#00441B" stroke-width="8.5"/>
<path d="M2698.3 2597.3 L2697.8 2596.8 L2694.6 2594 L2686.4 2586.6 L2671.7 2573.4 L2649.6 2553.3 L2619.7 2526.2 L2582.8 2492.5 L2539.9 2453.2 L2492.6 2409.7 L2442.7 2363.5 L2391.9 2316.1 L2341.5 2268.7 L2292.6 2222.2 L2246 2177.3 L2202.1 2134.4 L2161.1 2093.6 L2123 2054.9 L2087.6 2018 L2054.6 1982.6 L2023.7 1948.4 L1994.6 1915.1 L1967 1882.2 L1940.4 1849.3 L1914.6 1816.2 L1889.3 1782.7 L1864.5 1748.6 L1839.8 1713.3 L1815.1 1676.5 L1790.1 1637.9 L1764.4 1596.9 L1737.9 1553.1 L1710.3 1506.2 L1681.5 1456 L1651.4 1402.5 L1620.1 1345.8 L1587.8 1286.5 L1555 1225.5 L1522.3 1164 L1490.6 1103.9 L1460.8 1046.9 L1433.9 995.3 L1410.9 950.8 L1392.4 915 L1378.7 888.3 L1369.7 870.7 L1364.7 860.9 L1362.8 857 L1362.5 856.5" stroke="#00441B" stroke-width="19.5"/>
<path d="M2692.4 2602.4 L2691.9 2602 L2688.3 2599.6 L2679.2 2593.3 L2662.7 2582 L2637.9 2564.8 L2604.5 2541.6 L2563.1 2512.8 L2515 2479.2 L2462 2441.9 L2406 2402.2 L2348.9 2361.5 L2292.2 2320.6 L2237.1 2280.6 L2184.6 2241.8 L2135 2204.7 L2088.7 2169.3 L2045.4 2135.5 L2005.1 2103.3 L1967.5 2072.2 L1932.1 2042.1 L1898.6 2012.6 L1866.6 1983.3 L1835.7 1953.9 L1805.5 1924.2 L1775.8 1894.1 L1746.4 1863.1 L1717.1 1831.1 L1687.6 1797.6 L1657.4 1762.2 L1626.4 1724.5 L1594.1 1684.2 L1560.3 1640.9 L1524.9 1594.5 L1487.7 1545 L1448.9 1492.4 L1408.8 1437.3 L1368 1380.6 L1327.2 1323.4 L1287.5 1267.4 L1250.1 1214.3 L1216.5 1166.2 L1187.6 1124.8 L1164.4 1091.3 L1147.2 1066.5 L1135.8 1050 L1129.6 1040.9 L1127.1 1037.3 L1126.7 1036.7" stroke="#00441B" stroke-width="6"/>
<path d="M2927.6 2344 L2927.5 2343.8 L2927.5 2342.3 L2927.3 2338.4 L2926.9 2331.4 L2926.4 2320.9 L2925.7 2306.7 L2924.9 2289.1 L2924 2268.6 L2923 2245.9 L2922.1 2222 L2921.2 2197.5 L2920.5 2173.1 L2919.9 2149.3 L2919.5 2126.5 L2919.2 2104.8 L2919.2 2084.4 L2919.3 2065.2 L2919.7 2047.2 L2920.3 2030.1 L2921.1 2013.9 L2922.2 1998.3 L2923.5 1983.2 L2925 1968.4 L2926.9 1953.7 L2928.9 1939 L2931.2 1924.3 L2933.9 1909.3 L2936.9 1894 L2940.3 1878.1 L2944.1 1861.4 L2948.5 1843.8 L2953.3 1825.2 L2958.6 1805.5 L2964.5 1784.6 L2970.8 1762.6 L2977.5 1739.8 L2984.6 1716.3 L2991.8 1692.8 L2998.9 1669.8 L3005.6 1648.2 L3011.8 1628.5 L3017.2 1611.7 L3021.5 1598.1 L3024.8 1588 L3026.9 1581.4 L3028.1 1577.7 L3028.6 1576.2 L3028.7 1576" stroke="#DEDC00" stroke-width="4.6"/>
<path d="M2919.8 2343.5 L2919.7 2343.2 L2919.4 2341.2 L2918.4 2336 L2916.7 2326.7 L2914.1 2312.7 L2910.7 2293.7 L2906.5 2270.2 L2901.6 2242.9 L2896.4 2212.7 L2890.9 2180.7 L2885.4 2147.9 L2880.1 2115.3 L2875.1 2083.5 L2870.5 2053 L2866.3 2024 L2862.7 1996.6 L2859.5 1970.8 L2856.8 1946.5 L2854.6 1923.6 L2852.8 1901.6 L2851.5 1880.5 L2850.6 1860 L2850.1 1839.8 L2849.9 1819.8 L2850.1 1799.8 L2850.6 1779.6 L2851.5 1759 L2852.8 1737.9 L2854.6 1716 L2856.8 1693 L2859.5 1668.7 L2862.7 1642.9 L2866.3 1615.5 L2870.5 1586.4 L2875.1 1555.8 L2880.1 1523.9 L2885.4 1491.2 L2890.9 1458.4 L2896.4 1426.4 L2901.6 1396.1 L2906.5 1368.7 L2910.7 1345.2 L2914.1 1326.2 L2916.7 1312.1 L2918.4 1302.8 L2919.4 1297.6 L2919.7 1295.6 L2919.8 1295.3" stroke="#DEDC00" stroke-width="7.6"/>
<path d="M2904.4 2345.5 L2904.2 2345.1 L2902.9 2342.4 L2899.6 2335.5 L2893.7 2323 L2884.7 2304.2 L2872.7 2278.7 L2857.9 2247.2 L2840.7 2210.4 L2821.9 2169.7 L2802.1 2126.7 L2782 2082.5 L2762.1 2038.5 L2743 1995.4 L2725 1954.1 L2708.1 1914.7 L2692.6 1877.5 L2678.4 1842.3 L2665.4 1809.1 L2653.6 1777.5 L2642.8 1747.2 L2633 1717.9 L2623.9 1689.3 L2615.6 1661 L2607.7 1632.8 L2600.4 1604.5 L2593.5 1575.8 L2587 1546.5 L2580.9 1516.2 L2575.1 1484.6 L2569.5 1451.3 L2564.1 1416 L2558.9 1378.4 L2553.7 1338.3 L2548.6 1295.8 L2543.5 1250.9 L2538.5 1204 L2533.7 1155.9 L2529 1107.6 L2524.6 1060.3 L2520.6 1015.6 L2517.1 975.1 L2514.1 940.3 L2511.8 912.2 L2510.1 891.4 L2509 877.6 L2508.4 870 L2508.1 867 L2508.1 866.5" stroke="#DEDC00" stroke-width="8.2"/>
<path d="M2877.7 2360.9 L2877.2 2360.6 L2873.7 2358.2 L2864.9 2352.2 L2849.1 2341.2 L2825.1 2324.7 L2792.9 2302.3 L2753 2274.5 L2706.6 2242.1 L2655.5 2206.1 L2601.6 2167.9 L2546.5 2128.6 L2491.8 2089.3 L2438.8 2050.7 L2388.1 2013.3 L2340.4 1977.5 L2295.6 1943.4 L2254 1910.8 L2215.1 1879.7 L2178.8 1849.8 L2144.7 1820.7 L2112.4 1792.3 L2081.5 1764 L2051.7 1735.7 L2022.6 1707.1 L1994 1678 L1965.7 1648.2 L1937.4 1617.3 L1908.9 1585 L1879.9 1550.9 L1849.9 1514.5 L1818.8 1475.7 L1786.3 1434 L1752.1 1389.2 L1716.3 1341.4 L1678.9 1290.7 L1640.2 1237.6 L1600.8 1182.9 L1561.5 1127.8 L1523.2 1073.8 L1487.2 1022.7 L1454.7 976.3 L1426.9 936.3 L1404.5 904.1 L1387.9 880.1 L1377 864.2 L1371 855.4 L1368.6 852 L1368.2 851.4" stroke="#DEDC00" stroke-width="20.5"/>
<path d="M2872.6 2366.8 L2872 2366.5 L2868.2 2364.5 L2858.4 2359.6 L2840.8 2350.6 L2814.1 2336.9 L2778.3 2318.4 L2733.9 2295.5 L2682.3 2268.6 L2625.4 2238.9 L2565.3 2207.1 L2503.9 2174.5 L2442.9 2141.7 L2383.6 2109.5 L2327 2078.2 L2273.5 2048.1 L2223.4 2019.3 L2176.5 1991.8 L2132.8 1965.3 L2091.8 1939.6 L2053.1 1914.6 L2016.4 1889.9 L1981.1 1865.3 L1946.9 1840.4 L1913.4 1815.2 L1880.4 1789.4 L1847.5 1762.8 L1814.6 1735.1 L1781.2 1706 L1747 1675.1 L1711.6 1642.1 L1674.7 1606.7 L1635.9 1568.6 L1595.1 1527.5 L1552.2 1483.6 L1507.3 1437 L1460.7 1388.1 L1413.2 1337.6 L1365.8 1286.7 L1319.5 1236.8 L1276 1189.5 L1236.7 1146.6 L1202.9 1109.6 L1175.8 1079.8 L1155.7 1057.6 L1142.4 1042.8 L1135.1 1034.7 L1132.2 1031.5 L1131.8 1031" stroke="#DEDC00" stroke-width="5"/>
</g>
<g fill-opacity="0.6" stroke-opacity="0.6" stroke-width="3.1" stroke-linejoin="round">
<polygon points="1388.9,842.2 1386.9,838.8 1380.7,832.8 1381,832.3 1389.2,835.3 1393.1,835.6" fill="#377EB8" stroke="#377EB8"/>
<polygon points="1151.1,1019.2 1148.7,1016.1 1141.7,1010.9 1142,1010.3 1150.4,1012.2 1154.4,1012.1" fill="#377EB8" stroke="#377EB8"/>
<polygon points="1392.6,833.9 1390.1,830.8 1383.2,825.6 1383.4,825 1391.9,826.9 1395.8,826.8" fill="#4DAF4A" stroke="#4DAF4A"/>
<polygon points="1153.6,1010.4 1150.8,1007.6 1143.2,1003.4 1143.4,1002.8 1152,1003.6 1155.9,1003" fill="#4DAF4A" stroke="#4DAF4A"/>
<polygon points="2966.6,1521.5 2970.1,1523.4 2978.5,1525.5 2978.5,1526.1 2969.9,1527.6 2966.3,1529.3" fill="#E3BE00" stroke="#E3BE00"/>
<polygon points="2851.2,1249.3 2854.8,1250.8 2863.4,1251.8 2863.5,1252.4 2855.2,1255 2851.9,1257.1" fill="#E3BE00" stroke="#E3BE00"/>
<polygon points="2429.9,839.9 2433.8,840.3 2442.4,839.1 2442.6,839.6 2435.3,844.3 2432.6,847.2" fill="#E3BE00" stroke="#E3BE00"/>
<polygon points="1287.2,867.4 1290.8,865.9 1297.6,860.5 1298.1,860.9 1294,868.6 1293.2,872.4" fill="#E3BE00" stroke="#E3BE00"/>
<polygon points="1053.5,1057.4 1056.9,1055.4 1062.9,1049.2 1063.5,1049.5 1060.5,1057.7 1060.1,1061.6" fill="#E3BE00" stroke="#E3BE00"/>
<polygon points="2967.6,1530.5 2971.3,1532 2979.9,1533 2980,1533.6 2971.7,1536.2 2968.4,1538.3" fill="#FB9A99" stroke="#FB9A99"/>
<polygon points="2853.4,1258.2 2857.2,1259.1 2865.9,1259 2866,1259.6 2858.1,1263.2 2855.1,1265.8" fill="#FB9A99" stroke="#FB9A99"/>
<polygon points="2434.3,847.8 2438.3,847.8 2446.6,845.4 2446.9,846 2440.2,851.5 2437.9,854.7" fill="#FB9A99" stroke="#FB9A99"/>
<polygon points="1295,872.1 1298.4,870.1 1304.4,863.9 1304.9,864.2 1301.9,872.4 1301.6,876.3" fill="#FB9A99" stroke="#FB9A99"/>
<polygon points="1061.9,1061.1 1065,1058.7 1070.2,1051.7 1070.7,1052 1068.8,1060.4 1068.9,1064.4" fill="#FB9A99" stroke="#FB9A99"/>
<polygon points="2969.8,1539.4 2973.7,1540.4 2982.3,1540.2 2982.5,1540.8 2974.6,1544.5 2971.6,1547" fill="#E7298A" stroke="#E7298A"/>
<polygon points="2856.7,1266.6 2860.6,1267.1 2869.2,1265.9 2869.4,1266.4 2862.1,1271.1 2859.4,1274" fill="#E7298A" stroke="#E7298A"/>
<polygon points="2439.7,855.2 2443.6,854.6 2451.6,851.2 2451.9,851.7 2446.1,858.1 2444.2,861.6" fill="#E7298A" stroke="#E7298A"/>
<polygon points="1303.3,875.8 1306.5,873.4 1311.6,866.4 1312.2,866.7 1310.3,875.1 1310.4,879.1" fill="#E7298A" stroke="#E7298A"/>
<polygon points="1070.6,1063.6 1073.4,1060.8 1077.6,1053.2 1078.2,1053.4 1077.4,1062 1078.1,1065.9" fill="#E7298A" stroke="#E7298A"/>
<polygon points="2977.6,1555.8 2981.5,1555.8 2989.9,1553.4 2990.2,1554 2983.5,1559.5 2981.2,1562.7" fill="#00CDD1" stroke="#00CDD1"/>
<polygon points="2866.5,1282 2870.4,1281.4 2878.4,1278 2878.7,1278.5 2872.8,1284.8 2871,1288.3" fill="#00CDD1" stroke="#00CDD1"/>
<polygon points="2453.2,867.4 2456.8,865.9 2463.6,860.5 2464.1,860.9 2460,868.6 2459.2,872.4" fill="#00CDD1" stroke="#00CDD1"/>
<polygon points="1321.1,879.7 1323.5,876.5 1326.7,868.5 1327.3,868.6 1327.6,877.2 1328.8,881" fill="#00CDD1" stroke="#00CDD1"/>
<polygon points="1088.8,1065.2 1090.7,1061.7 1092.8,1053.3 1093.4,1053.3 1094.9,1061.9 1096.6,1065.5" fill="#00CDD1" stroke="#00CDD1"/>
<polygon points="2983,1563.2 2986.9,1562.6 2994.9,1559.2 2995.2,1559.7 2989.3,1566.1 2987.5,1569.6" fill="#A6CEE3" stroke="#A6CEE3"/>
<polygon points="2872.8,1288.5 2876.6,1287.5 2884.1,1283 2884.5,1283.5 2879.5,1290.6 2878.1,1294.3" fill="#A6CEE3" stroke="#A6CEE3"/>
<polygon points="2461,872.1 2464.4,870.1 2470.4,863.9 2470.9,864.2 2467.9,872.4 2467.6,876.3" fill="#A6CEE3" stroke="#A6CEE3"/>
<polygon points="1330.2,879.9 1332.2,876.4 1334.3,868 1334.9,868 1336.4,876.6 1338,880.2" fill="#A6CEE3" stroke="#A6CEE3"/>
<polygon points="1097.8,1064.1 1099.3,1060.5 1100.3,1051.9 1100.9,1051.8 1103.5,1060.1 1105.6,1063.4" fill="#A6CEE3" stroke="#A6CEE3"/>
<polygon points="2989.3,1569.8 2993.1,1568.7 3000.6,1564.2 3001,1564.7 2996,1571.8 2994.6,1575.5" fill="#CE1261" stroke="#CE1261"/>
<polygon points="2880,1294.2 2883.6,1292.7 2890.4,1287.3 2890.9,1287.7 2886.8,1295.4 2886,1299.2" fill="#CE1261" stroke="#CE1261"/>
<polygon points="2469.3,875.8 2472.5,873.4 2477.6,866.4 2478.2,866.7 2476.3,875.1 2476.4,879.1" fill="#CE1261" stroke="#CE1261"/>
<polygon points="1339.3,878.8 1340.8,875.2 1341.8,866.6 1342.4,866.5 1345,874.8 1347.1,878.1" fill="#CE1261" stroke="#CE1261"/>
<polygon points="1106.7,1061.9 1107.7,1058.1 1107.5,1049.4 1108.1,1049.3 1111.7,1057.2 1114.3,1060.2" fill="#CE1261" stroke="#CE1261"/>
<polygon points="2996.4,1575.4 3000.1,1573.9 3006.9,1568.5 3007.4,1568.9 3003.3,1576.6 3002.4,1580.4" fill="#5E4FA2" stroke="#5E4FA2"/>
<polygon points="2887.8,1298.9 2891.2,1296.9 2897.2,1290.7 2897.7,1291 2894.7,1299.2 2894.4,1303.1" fill="#5E4FA2" stroke="#5E4FA2"/>
<polygon points="2478.1,878.3 2480.9,875.5 2485.1,867.9 2485.7,868.1 2484.9,876.7 2485.6,880.6" fill="#5E4FA2" stroke="#5E4FA2"/>
<polygon points="1348.2,876.6 1349.1,872.8 1349,864.1 1349.6,864 1353.2,871.9 1355.8,874.9" fill="#5E4FA2" stroke="#5E4FA2"/>
<polygon points="1115.2,1058.6 1115.6,1054.7 1114.4,1046.1 1114.9,1045.9 1119.6,1053.2 1122.5,1055.9" fill="#5E4FA2" stroke="#5E4FA2"/>
<polygon points="3004.3,1580.1 3007.7,1578.1 3013.7,1571.9 3014.2,1572.2 3011.2,1580.4 3010.9,1584.3" fill="#8CA77B" stroke="#8CA77B"/>
<polygon points="2896.1,1302.6 2899.2,1300.1 2904.4,1293.2 2905,1293.4 2903.1,1301.9 2903.2,1305.8" fill="#8CA77B" stroke="#8CA77B"/>
<polygon points="2487.1,879.7 2489.5,876.5 2492.7,868.5 2493.3,868.6 2493.6,877.2 2494.8,881" fill="#8CA77B" stroke="#8CA77B"/>
<polygon points="1356.6,873.3 1357.1,869.4 1355.9,860.8 1356.4,860.6 1361.1,867.9 1364,870.6" fill="#8CA77B" stroke="#8CA77B"/>
<polygon points="1123.1,1054.2 1123.1,1050.3 1120.7,1041.9 1121.3,1041.6 1126.8,1048.3 1130,1050.6" fill="#8CA77B" stroke="#8CA77B"/>
<polygon points="3012.6,1583.8 3015.7,1581.4 3020.9,1574.4 3021.5,1574.7 3019.5,1583.1 3019.7,1587.1" fill="#00441B" stroke="#00441B"/>
<polygon points="2904.9,1305.1 2907.7,1302.3 2911.9,1294.7 2912.5,1294.9 2911.7,1303.5 2912.3,1307.4" fill="#00441B" stroke="#00441B"/>
<polygon points="2496.2,879.9 2498.2,876.4 2500.3,868 2500.9,868 2502.4,876.6 2504,880.2" fill="#00441B" stroke="#00441B"/>
<polygon points="1364.6,868.9 1364.6,865 1362.2,856.6 1362.8,856.3 1368.3,863 1371.5,865.3" fill="#00441B" stroke="#00441B"/>
<polygon points="1130.5,1048.8 1129.9,1044.9 1126.5,1036.9 1127,1036.6 1133.4,1042.5 1136.9,1044.3" fill="#00441B" stroke="#00441B"/>
<polygon points="3021.4,1586.3 3024.1,1583.5 3028.4,1575.9 3028.9,1576.1 3028.2,1584.7 3028.8,1588.6" fill="#DEDC00" stroke="#DEDC00"/>
<polygon points="2913.9,1306.5 2916.3,1303.3 2919.5,1295.2 2920.1,1295.4 2920.4,1304 2921.6,1307.8" fill="#DEDC00" stroke="#DEDC00"/>
<polygon points="2505.3,878.8 2506.8,875.2 2507.8,866.6 2508.4,866.5 2511,874.8 2513.1,878.1" fill="#DEDC00" stroke="#DEDC00"/>
<polygon points="1372,863.5 1371.4,859.6 1368,851.6 1368.5,851.3 1374.8,857.2 1378.3,859" fill="#DEDC00" stroke="#DEDC00"/>
<polygon points="1137.1,1042.5 1136,1038.7 1131.5,1031.2 1132,1030.8 1139.1,1035.8 1142.8,1037.2" fill="#DEDC00" stroke="#DEDC00"/>
</g>
<g stroke-width="3.1">
<circle cx="3076" cy="1820" r="58.3" fill="#E41A1C" stroke="#E41A1C"/>
<circle cx="3036.3" cy="1518.2" r="58.3" fill="#377EB8" stroke="#377EB8"/>
<circle cx="2919.8" cy="1237" r="58.3" fill="#4DAF4A" stroke="#4DAF4A"/>
<circle cx="2734.5" cy="995.5" r="58.3" fill="#984EA3" stroke="#984EA3"/>
<circle cx="2493" cy="810.2" r="58.3" fill="#F29403" stroke="#F29403"/>
<circle cx="2211.8" cy="693.7" r="58.3" fill="#F781BF" stroke="#F781BF"/>
<circle cx="1910" cy="654" r="58.3" fill="#BC9DCC" stroke="#BC9DCC"/>
<circle cx="1608.2" cy="693.7" r="58.3" fill="#A65628" stroke="#A65628"/>
<circle cx="1327" cy="810.2" r="58.3" fill="#54B0E4" stroke="#54B0E4"/>
<circle cx="1085.5" cy="995.5" r="58.3" fill="#222F75" stroke="#222F75"/>
<circle cx="900.2" cy="1237" r="58.3" fill="#1B9E77" stroke="#1B9E77"/>
<circle cx="783.7" cy="1518.2" r="58.3" fill="#B2DF8A" stroke="#B2DF8A"/>
<circle cx="744" cy="1820" r="58.3" fill="#E3BE00" stroke="#E3BE00"/>
<circle cx="783.7" cy="2121.8" r="58.3" fill="#FB9A99" stroke="#FB9A99"/>
<circle cx="900.2" cy="2403" r="58.3" fill="#E7298A" stroke="#E7298A"/>
<circle cx="1085.5" cy="2644.5" r="58.3" fill="#910241" stroke="#910241"/>
<circle cx="1327" cy="2829.8" r="58.3" fill="#00CDD1" stroke="#00CDD1"/>
<circle cx="1608.2" cy="2946.3" r="58.3" fill="#A6CEE3" stroke="#A6CEE3"/>
<circle cx="1910" cy="2986" r="58.3" fill="#CE1261" stroke="#CE1261"/>
<circle cx="2211.8" cy="2946.3" r="58.3" fill="#5E4FA2" stroke="#5E4FA2"/>
<circle cx="2493" cy="2829.8" r="58.3" fill="#8CA77B" stroke="#8CA77B"/>
<circle cx="2734.5" cy="2644.5" r="58.3" fill="#00441B" stroke="#00441B"/>
<circle cx="2919.8" cy="2403" r="58.3" fill="#DEDC00" stroke="#DEDC00"/>
<circle cx="3036.3" cy="2121.8" r="58.3" fill="#B3DE69" stroke="#B3DE69"/>
</g>
<g font-family="'Liberation Sans', sans-serif" font-size="41.5" fill="#000" text-anchor="middle">
<text x="3329.6" y="1830.2" textLength="226.3" lengthAdjust="spacingAndGlyphs">B_Follicular</text>
<text x="3280.5" y="1460" textLength="241" lengthAdjust="spacingAndGlyphs">B_GC_in_DZ</text>
<text x="3136.5" y="1115.4" textLength="232.5" lengthAdjust="spacingAndGlyphs">B_GC_in_LZ</text>
<text x="2907.6" y="820.4" textLength="314.6" lengthAdjust="spacingAndGlyphs">B_MALT_Plasma</text>
<text x="2609.7" y="595.3" textLength="161.3" lengthAdjust="spacingAndGlyphs">B_Naive</text>
<text x="2263.4" y="455.6" textLength="492" lengthAdjust="spacingAndGlyphs">B_Nonswitched_memory</text>
<text x="1892.7" y="411.2" textLength="134.2" lengthAdjust="spacingAndGlyphs">B_NOS</text>
<text x="1523.3" y="465" textLength="416.8" lengthAdjust="spacingAndGlyphs">B_Switched_memory</text>
<text x="1180.8" y="613.2" textLength="294.9" lengthAdjust="spacingAndGlyphs">Epithelial_cells</text>
<text x="888.8" y="845.7" textLength="264.5" lengthAdjust="spacingAndGlyphs">Myeloid_cells</text>
<text x="667.6" y="1146.2" textLength="165.8" lengthAdjust="spacingAndGlyphs">NK_cells</text>
<text x="532.5" y="1493.9" textLength="203.7" lengthAdjust="spacingAndGlyphs">NK/T_cells</text>
<text x="492.8" y="1864.7" textLength="262.4" lengthAdjust="spacingAndGlyphs">T_CD4_Naive</text>
<text x="551.1" y="2233" textLength="212.5" lengthAdjust="spacingAndGlyphs">T_CD4_Tfh</text>
<text x="703.5" y="2573.2" textLength="198.4" lengthAdjust="spacingAndGlyphs">T_CD4_Th</text>
<text x="939.3" y="2861.9" textLength="232.7" lengthAdjust="spacingAndGlyphs">T_CD4_Treg</text>
<text x="1242.1" y="3078.9" textLength="481.4" lengthAdjust="spacingAndGlyphs">T_CD8_Central_memory</text>
<text x="1590.9" y="3209.5" textLength="336.1" lengthAdjust="spacingAndGlyphs">T_CD8_Cytotoxic</text>
<text x="1961.6" y="3244.5" textLength="560.8" lengthAdjust="spacingAndGlyphs">T_CD8_Exhausted_cytotoxic</text>
<text x="2328.5" y="3181.6" textLength="546.4" lengthAdjust="spacingAndGlyphs">T_CD8_Exhausted_memory</text>
<text x="2666.1" y="3025.3" textLength="262.4" lengthAdjust="spacingAndGlyphs">T_CD8_Naive</text>
<text x="2951.2" y="2786.4" textLength="355.1" lengthAdjust="spacingAndGlyphs">T_CD8_Progenitor</text>
<text x="3164" y="2481.6" textLength="221.9" lengthAdjust="spacingAndGlyphs">T_CD8_Trm</text>
<text x="3289.9" y="2132" textLength="131.2" lengthAdjust="spacingAndGlyphs">T_NOS</text>
</g>
</svg>
</body>
</html>
